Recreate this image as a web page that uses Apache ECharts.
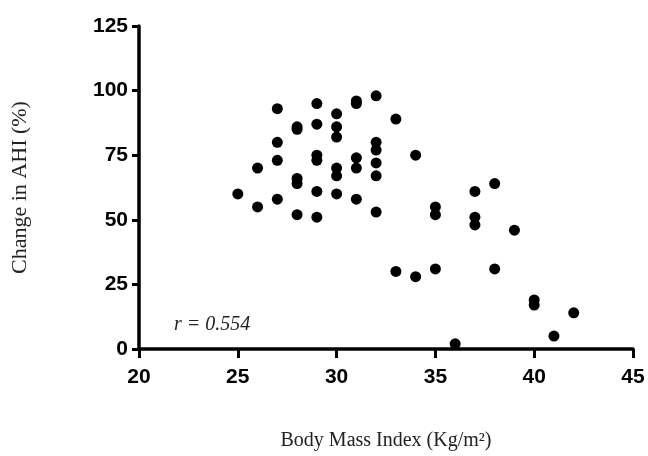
<!DOCTYPE html>
<html>
<head>
<meta charset="utf-8">
<script src="https://cdn.jsdelivr.net/npm/echarts@6/dist/echarts.min.js"></script>
<style>html,body{margin:0;padding:0;background:#fff}#c{width:648px;height:456px}</style>
</head>
<body>
<div id="c"></div>
<script>
var bmi = [25,
  26,26,
  27,27,27,27,
  28,28,28,28,28,
  29,29,29,29,29,29,
  30,30,30,30,30,30,
  31,31,31,31,31,
  32,32,32,32,32,32,
  33,33,
  34,34,
  35,35,35,
  36,
  37,37,37,
  38,38,
  39,
  40,40,
  41,
  42];
var ahiChange = [60,
  70,55,
  93,80,73,58,
  86,85,66,64,52,
  95,87,75,73,61,51,
  91,86,82,70,67,60,
  96,95,74,70,58,
  98,80,77,72,67,53,
  89,30,
  75,28,
  55,52,31,
  2,
  61,51,48,
  64,31,
  46,
  19,17,
  5,
  14];
var xTicks = [20, 25, 30, 35, 40, 45];
var yTicks = [0, 25, 50, 75, 100, 125];
var annotation = 'r = 0.554';

var pts = bmi.map(function (x, i) { return [x, ahiChange[i]]; });
var chart = echarts.init(document.getElementById('c'), null, {renderer: 'canvas'});
var axisLbl = {color: '#000', fontFamily: 'Liberation Sans', fontWeight: 'bold', fontSize: 21};
chart.setOption({
  animation: false,
  backgroundColor: '#fff',
  title: {
    text: annotation, left: 169, top: 310,
    textStyle: {fontFamily: 'Liberation Serif', fontStyle: 'italic', fontWeight: 'normal', fontSize: 20, color: '#222'}
  },
  grid: {left: 139, right: 15, top: 26, bottom: 101, containLabel: false},
  xAxis: {
    type: 'value', min: xTicks[0], max: xTicks[xTicks.length - 1], interval: 5,
    name: 'Body Mass Index (Kg/m²)', nameLocation: 'middle', nameGap: 82,
    nameTextStyle: {fontFamily: 'Liberation Serif', fontSize: 20, color: '#222'},
    axisLine: {lineStyle: {color: '#000', width: 3.5}},
    axisTick: {length: 9, lineStyle: {color: '#000', width: 3}},
    axisLabel: Object.assign({margin: 18}, axisLbl),
    splitLine: {show: false}
  },
  yAxis: {
    type: 'value', min: yTicks[0], max: yTicks[yTicks.length - 1], interval: 25,
    name: 'Change in AHI (%)', nameLocation: 'middle', nameGap: 108, nameRotate: 90,
    nameTextStyle: {fontFamily: 'Liberation Serif', fontSize: 22, color: '#222'},
    axisLine: {show: true, lineStyle: {color: '#000', width: 3.5}},
    axisTick: {show: true, length: 7, lineStyle: {color: '#000', width: 3}},
    axisLabel: Object.assign({margin: 11}, axisLbl),
    splitLine: {show: false}
  },
  series: [{
    type: 'scatter', data: pts, symbol: 'circle', symbolSize: 11,
    itemStyle: {color: '#000', opacity: 1}
  }]
});
</script>
</body>
</html>
